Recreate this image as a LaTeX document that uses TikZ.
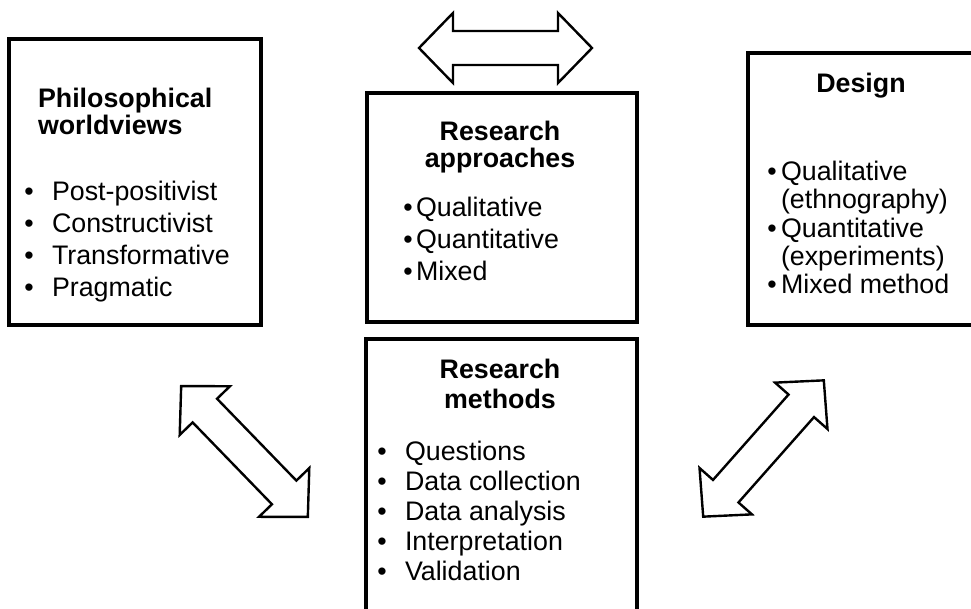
\documentclass[tikz,border=0pt]{standalone}
\usepackage{fontspec}
\setmainfont{Liberation Sans}
\begin{document}
\begin{tikzpicture}[x=1pt,y=-1pt,
  frame/.style={draw=black,line width=4pt,fill=white,inner sep=0pt,outer sep=0pt},
  txt/.style={inner sep=0pt,outer sep=0pt,font=\fontsize{26.8}{32}\selectfont},
  head/.style={txt,font=\fontsize{26.8}{32}\selectfont\bfseries},
  blt/.style={txt,anchor=base},
  arrowline/.style={draw=black,line width=2.4pt,fill=white,line join=miter},
  pics/dblarrow/.style={code={
    \draw[arrowline] (-#1,0) -- (-#1+34,-35) -- (-#1+34,-17) -- (#1-34,-17)
      -- (#1-34,-35) -- (#1,0) -- (#1-34,35) -- (#1-34,17) -- (-#1+34,17)
      -- (-#1+34,35) -- cycle;}}]
\useasboundingbox (0,0) rectangle (971,608);
\clip (0,0) rectangle (971,608);

% boxes
\node[frame,minimum width=252pt,minimum height=286pt] (phil) at (135,182) {};
\node[frame,minimum width=270pt,minimum height=229pt] (appr) at (502,207.5) {};
\node[frame,minimum width=271pt,minimum height=272pt] (meth) at (501.5,475) {};
\node[frame,minimum width=227pt,minimum height=272pt] (design) at (861.5,189) {};

% block arrows
\pic at (505.5,48) {dblarrow=86.5};
\pic[rotate=-45.9] at (244.5,451.5) {dblarrow=91};
\pic[rotate=48.5] at (763.5,448.5) {dblarrow=91};

% philosophical worldviews
\node[head,anchor=base west] (ph1) at (38,107) {Philosophical};
\node[head,anchor=base west] (ph2) at (38,134) {worldviews};
\foreach \y/\t [count=\i] in {200/Post-positivist,232/Constructivist,264/Transformative,296/Pragmatic}{
  \node[blt] (phb\i) at (29,\y) {•};
  \node[txt,anchor=base west] (phi\i) at (52,\y) {\t};
}

% research approaches
\node[head,anchor=base] (ap1) at (500,140) {Research};
\node[head,anchor=base] (ap2) at (500,167) {approaches};
\foreach \y/\t [count=\i] in {216/Qualitative,248/Quantitative,280/Mixed}{
  \node[blt] (apb\i) at (408,\y) {•};
  \node[txt,anchor=base west] (api\i) at (416,\y) {\t};
}

% research methods
\node[head,anchor=base] (me1) at (500,378) {Research};
\node[head,anchor=base] (me2) at (500,408) {methods};
\foreach \y/\t [count=\i] in {460/Questions,490/Data collection,520/Data analysis,550/Interpretation,580/Validation}{
  \node[blt] (meb\i) at (382,\y) {•};
  \node[txt,anchor=base west] (mei\i) at (405,\y) {\t};
}

% design
\node[head,anchor=base] (de1) at (861,92) {Design};
\foreach \y [count=\i] in {180,237,293}{
  \node[blt] (deb\i) at (772,\y) {•};
}
\foreach \y/\t [count=\i] in {180/Qualitative,208/(ethnography),237/Quantitative,265/(experiments),293/Mixed method}{
  \node[txt,anchor=base west] (dei\i) at (781,\y) {\t};
}
\end{tikzpicture}
\end{document}
